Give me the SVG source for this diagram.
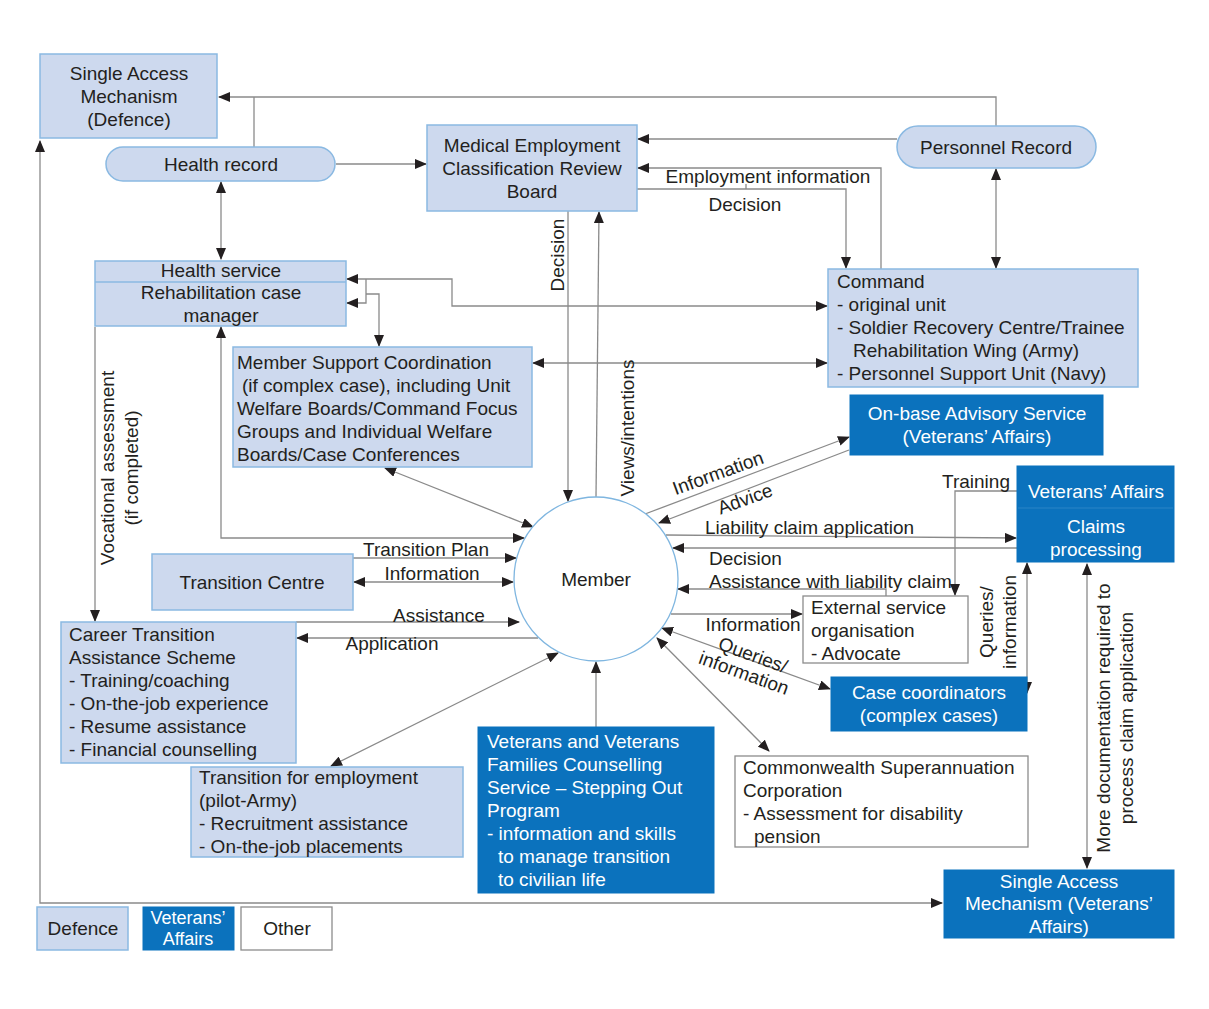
<svg xmlns="http://www.w3.org/2000/svg" width="1209" height="1009" viewBox="0 0 1209 1009">
<defs>
<style>
text{font-family:"Liberation Sans",Arial,sans-serif;font-size:19px;fill:#231f20}
.c{text-anchor:middle}
.w{fill:#ffffff}
.def{fill:#cdd9ee;stroke:#8ab9e2;stroke-width:1.5}
.va{fill:#0b72bd;stroke:#0b72bd;stroke-width:1}
.oth{fill:#ffffff;stroke:#8c8c8c;stroke-width:1.3}
.ln{fill:none;stroke:#8a8a8a;stroke-width:1.3}
.a{marker-end:url(#ah)}
.b{marker-start:url(#ah);marker-end:url(#ah)}
.r{dominant-baseline:central;text-anchor:middle}
</style>
<marker id="ah" markerUnits="userSpaceOnUse" viewBox="0 0 12 10" refX="11" refY="5" markerWidth="12" markerHeight="10" orient="auto-start-reverse">
<path d="M0,0 L12,5 L0,10 z" fill="#231f20"/>
</marker>
</defs>
<rect width="1209" height="1009" fill="#ffffff"/>

<g id="connectors">
<path class="ln b" d="M40,141 V903 H942"/>
<path class="ln a" d="M996,126 V97 H219"/>
<path class="ln" d="M254,147 V97"/>
<path class="ln a" d="M336,164 H426"/>
<path class="ln b" d="M221,182 V259"/>
<path class="ln a" d="M897,139 H638"/>
<path class="ln a" d="M881,269 V168 H638"/>
<path class="ln a" d="M637,189 H846 V268"/>
<path class="ln" d="M746,184 V189"/>
<path class="ln b" d="M996,169 V268"/>
<path class="ln a" d="M568,211 V501"/>
<path class="ln a" d="M596,497 L599,212"/>
<path class="ln b" d="M827,306 H452 V279 H347"/>
<path class="ln a" d="M366,279 V303 H347"/>
<path class="ln a" d="M366,294 H379 V346"/>
<path class="ln b" d="M533,363 H827"/>
<path class="ln b" d="M385,468 L533,527"/>
<path class="ln b" d="M221,327 V538 H524"/>
<path class="ln a" d="M353,558 H516"/>
<path class="ln b" d="M354,582 H513"/>
<path class="ln a" d="M296,622 H519"/>
<path class="ln a" d="M538,638 H297"/>
<path class="ln a" d="M95,327 V621"/>
<path class="ln b" d="M558,653 L331,766"/>
<path class="ln a" d="M596,727 V662"/>
<path class="ln b" d="M657,638 L769,751"/>
<path class="ln b" d="M662,628 L830,689"/>
<path class="ln a" d="M671,614 H802"/>
<path class="ln a" d="M886,596 V589 H678"/>
<path class="ln a" d="M1017,548 H673"/>
<path class="ln a" d="M666,535 L1016,538"/>
<path class="ln a" d="M645,514 L849,437"/>
<path class="ln a" d="M849,450 L659,523"/>
<path class="ln a" d="M1017,491 H955 V595"/>
<path class="ln b" d="M1027,563 V693"/>
<path class="ln b" d="M1087,564 V868"/>
</g>

<g id="labels">
<text x="768" y="183" class="c">Employment information</text>
<text x="745" y="211" class="c">Decision</text>
<text class="r" transform="translate(557,255) rotate(-90)">Decision</text>
<text class="r" transform="translate(627,428) rotate(-90)">Views/intentions</text>
<text class="r" transform="translate(107,468) rotate(-90)">Vocational assessment</text>
<text class="r" transform="translate(131,468) rotate(-90)">(if completed)</text>
<text x="426" y="556" class="c">Transition Plan</text>
<text x="432" y="580" class="c">Information</text>
<text x="439" y="622" class="c">Assistance</text>
<text x="392" y="650" class="c">Application</text>
<text class="r" transform="translate(718,473) rotate(-20)">Information</text>
<text class="r" transform="translate(745,499) rotate(-20)">Advice</text>
<text x="705" y="534">Liability claim application</text>
<text x="709" y="565">Decision</text>
<text x="709" y="588">Assistance with liability claim</text>
<text x="753" y="631" class="c">Information</text>
<text class="r" transform="translate(753,655) rotate(20)">Queries/</text>
<text class="r" transform="translate(744,673) rotate(20)">information</text>
<text x="976" y="488" class="c">Training</text>
<text class="r" transform="translate(986,622) rotate(-90)">Queries/</text>
<text class="r" transform="translate(1009,622) rotate(-90)">information</text>
<text class="r" transform="translate(1103,718) rotate(-90)">More documentation required to</text>
<text class="r" transform="translate(1126,718) rotate(-90)">process claim application</text>
</g>

<g id="sam-defence">
<rect class="def" x="40" y="54" width="177" height="84"/>
<text x="129" y="80" class="c">Single Access</text>
<text x="129" y="103" class="c">Mechanism</text>
<text x="129" y="126" class="c">(Defence)</text>
</g>

<g id="health-record">
<rect class="def" x="106" y="147" width="229" height="34" rx="17"/>
<text x="221" y="171" class="c">Health record</text>
</g>

<g id="mecrb">
<rect class="def" x="427" y="125" width="210" height="86"/>
<text x="532" y="152" class="c">Medical Employment</text>
<text x="532" y="175" class="c">Classification Review</text>
<text x="532" y="198" class="c">Board</text>
</g>

<g id="personnel-record">
<rect class="def" x="897" y="126" width="199" height="42" rx="21"/>
<text x="996" y="154" class="c">Personnel Record</text>
</g>

<g id="command">
<rect class="def" x="828" y="269" width="310" height="118"/>
<text x="837" y="288">Command</text>
<text x="837" y="311">- original unit</text>
<text x="837" y="334">- Soldier Recovery Centre/Trainee</text>
<text x="853" y="357">Rehabilitation Wing (Army)</text>
<text x="837" y="380">- Personnel Support Unit (Navy)</text>
</g>

<g id="health-service">
<rect class="def" x="95" y="261" width="251" height="65"/>
<line x1="95" y1="282" x2="346" y2="282" stroke="#8ab9e2" stroke-width="1.5"/>
<text x="221" y="277" class="c">Health service</text>
<text x="221" y="299" class="c">Rehabilitation case</text>
<text x="221" y="322" class="c">manager</text>
</g>

<g id="member-support">
<rect class="def" x="233" y="347" width="299" height="120"/>
<text x="237" y="369">Member Support Coordination</text>
<text x="242" y="392">(if complex case), including Unit</text>
<text x="237" y="415">Welfare Boards/Command Focus</text>
<text x="237" y="438">Groups and Individual Welfare</text>
<text x="237" y="461">Boards/Case Conferences</text>
</g>

<g id="transition-centre">
<rect class="def" x="152" y="554" width="201" height="56"/>
<text x="252" y="589" class="c">Transition Centre</text>
</g>

<g id="ctas">
<rect class="def" x="61" y="622" width="235" height="141"/>
<text x="69" y="641">Career Transition</text>
<text x="69" y="664">Assistance Scheme</text>
<text x="69" y="687">- Training/coaching</text>
<text x="69" y="710">- On-the-job experience</text>
<text x="69" y="733">- Resume assistance</text>
<text x="69" y="756">- Financial counselling</text>
</g>

<g id="transition-employment">
<rect class="def" x="191" y="767" width="272" height="90"/>
<text x="199" y="784">Transition for employment</text>
<text x="199" y="807">(pilot-Army)</text>
<text x="199" y="830">- Recruitment assistance</text>
<text x="199" y="853">- On-the-job placements</text>
</g>

<g id="member">
<circle cx="596" cy="579" r="82" fill="#ffffff" stroke="#7fb6e0" stroke-width="1.3"/>
<text x="596" y="586" class="c">Member</text>
</g>

<g id="vvcs">
<rect class="va" x="478" y="727" width="236" height="166"/>
<text class="w" x="487" y="748">Veterans and Veterans</text>
<text class="w" x="487" y="771">Families Counselling</text>
<text class="w" x="487" y="794">Service – Stepping Out</text>
<text class="w" x="487" y="817">Program</text>
<text class="w" x="487" y="840">- information and skills</text>
<text class="w" x="498" y="863">to manage transition</text>
<text class="w" x="498" y="886">to civilian life</text>
</g>

<g id="csc">
<rect class="oth" x="735" y="756" width="293" height="91"/>
<text x="743" y="774">Commonwealth Superannuation</text>
<text x="743" y="797">Corporation</text>
<text x="743" y="820">- Assessment for disability</text>
<text x="754" y="843">pension</text>
</g>

<g id="case-coordinators">
<rect class="va" x="831" y="677" width="196" height="54"/>
<text class="w c" x="929" y="699">Case coordinators</text>
<text class="w c" x="929" y="722">(complex cases)</text>
</g>

<g id="external-service">
<rect class="oth" x="803" y="596" width="165" height="67"/>
<text x="811" y="614">External service</text>
<text x="811" y="637">organisation</text>
<text x="811" y="660">- Advocate</text>
</g>

<g id="on-base">
<rect class="va" x="850" y="395" width="253" height="60"/>
<text class="w c" x="977" y="420">On-base Advisory Service</text>
<text class="w c" x="977" y="443">(Veterans’ Affairs)</text>
</g>

<g id="va-claims">
<rect class="va" x="1017" y="466" width="157" height="96"/>
<line x1="1018" y1="508" x2="1173" y2="508" stroke="#2a84c6" stroke-width="1"/>
<text class="w c" x="1096" y="498">Veterans’ Affairs</text>
<text class="w c" x="1096" y="533">Claims</text>
<text class="w c" x="1096" y="556">processing</text>
</g>

<g id="sam-va">
<rect class="va" x="944" y="870" width="230" height="68"/>
<text class="w c" x="1059" y="888">Single Access</text>
<text class="w c" x="1059" y="910">Mechanism (Veterans’</text>
<text class="w c" x="1059" y="933">Affairs)</text>
</g>

<g id="legend">
<rect class="def" x="37" y="907" width="91" height="43"/>
<text x="83" y="935" class="c">Defence</text>
<rect class="va" x="143" y="907" width="91" height="43"/>
<text class="w c" x="188" y="924" style="font-size:18px">Veterans’</text>
<text class="w c" x="188" y="945" style="font-size:18px">Affairs</text>
<rect class="oth" x="241" y="907" width="91" height="43"/>
<text x="287" y="935" class="c">Other</text>
</g>
</svg>
